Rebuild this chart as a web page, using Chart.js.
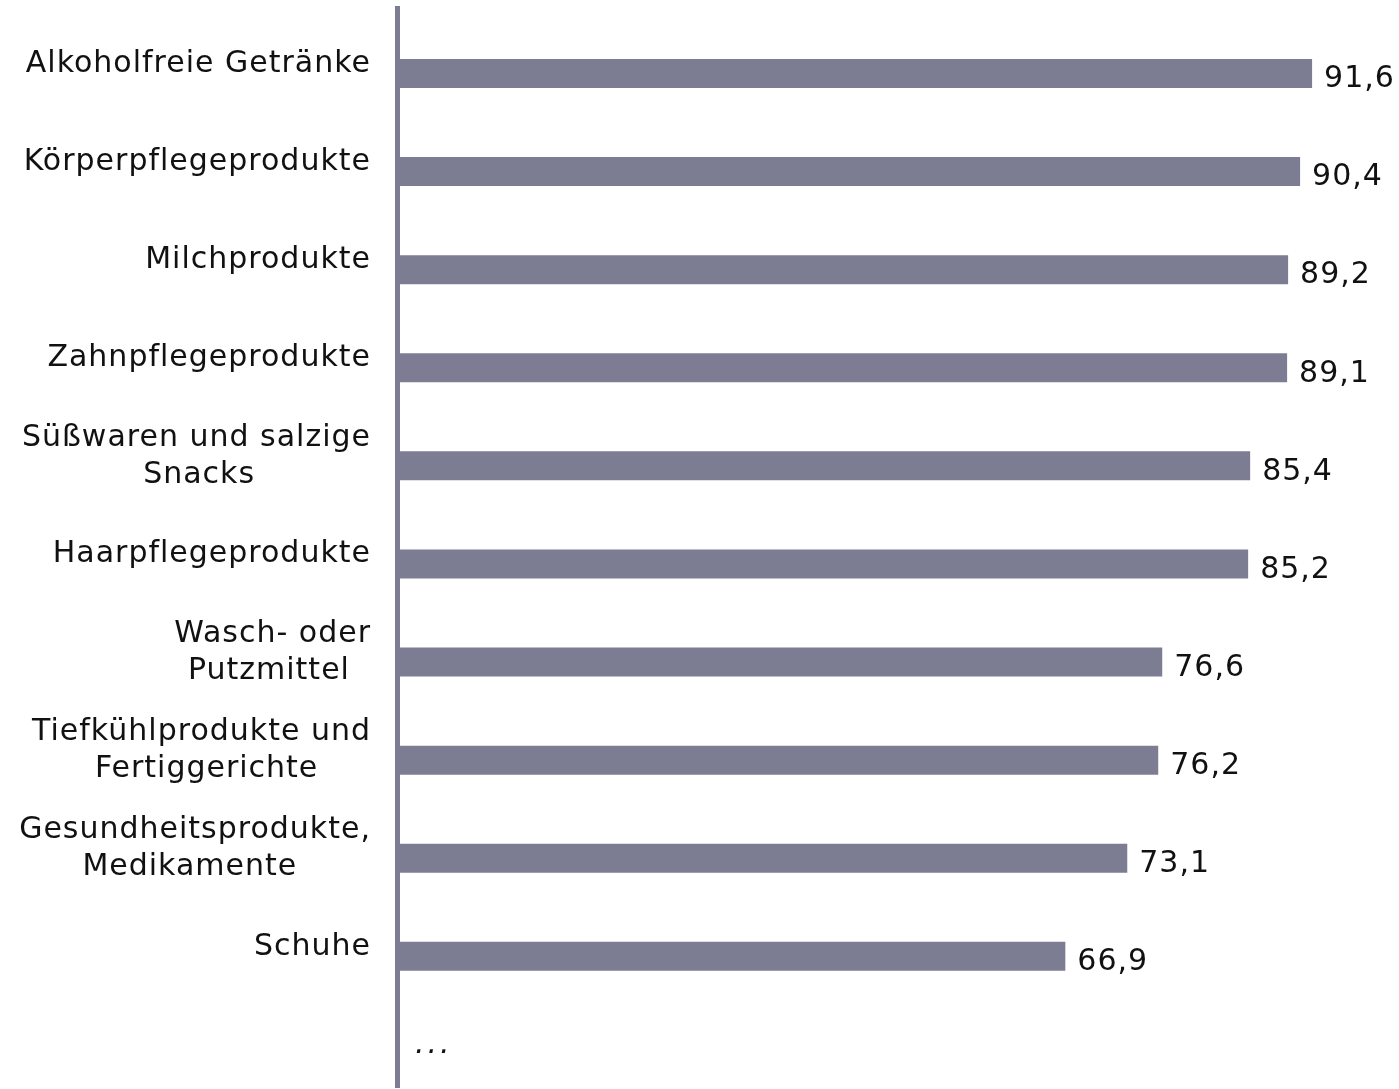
<!DOCTYPE html>
<html>
<head>
<meta charset="utf-8">
<script src="https://cdn.jsdelivr.net/npm/chart.js@4/dist/chart.umd.min.js"></script>
<style>
  html, body { margin: 0; padding: 0; background: #fff; overflow: hidden; }
  #wrap { width: 1399px; height: 1089px; }
</style>
</head>
<body>
<div id="wrap"><canvas id="myChart"></canvas></div>
<script>
const categories = [
    ["Alkoholfreie Getränke"],
    ["Körperpflegeprodukte"],
    ["Milchprodukte"],
    ["Zahnpflegeprodukte"],
    ["Süßwaren und salzige", "Snacks"],
    ["Haarpflegeprodukte"],
    ["Wasch- oder", "Putzmittel"],
    ["Tiefkühlprodukte und", "Fertiggerichte"],
    ["Gesundheitsprodukte,", "Medikamente"],
    ["Schuhe"],
    ["…"]
]
const values = [91.6, 90.4, 89.2, 89.1, 85.4, 85.2, 76.6, 76.2, 73.1, 66.9, null]
const spacer = [null, null, null, null, null, null, null, null, null, null, null]
const moreLabel = "..."

const barColor = "#7c7c92"
const fontFamily = "'DejaVu Sans', Verdana, sans-serif"
const fontSize = 30
const spacing = "1px"

// pad shorter lines with trailing spaces so each label block is centred line by line
const measure = document.createElement("canvas").getContext("2d")
measure.font = fontSize + "px " + fontFamily
measure.letterSpacing = spacing
function centerLines(lines) {
    if (lines.length < 2) return lines[0]
    const widths = lines.map(l => measure.measureText(l).width)
    const maxW = Math.max(...widths)
    const sp = measure.measureText(" ").width
    return lines.map((l, i) => l + " ".repeat(Math.round((maxW - widths[i]) / 2 / sp)))
}
const tickLabels = categories.map(c => c[0] === "…" ? "" : centerLines(c))

const valueLabels = {
    id: "valueLabels",
    beforeDraw(chart) {
        chart.ctx.letterSpacing = spacing
    },
    afterDatasetsDraw(chart) {
        const ctx = chart.ctx
        const meta = chart.getDatasetMeta(1)
        ctx.save()
        ctx.letterSpacing = spacing
        ctx.fillStyle = "#111"
        ctx.font = fontSize + "px " + fontFamily
        ctx.textAlign = "left"
        ctx.textBaseline = "middle"
        meta.data.forEach((bar, i) => {
            const v = values[i]
            if (v === null) return
            ctx.fillText(v.toFixed(1).replace(".", ","), bar.x + 12, bar.y + 6)
        })
        // the trailing "..." row sits inside the plot
        const x0 = chart.scales.x.getPixelForValue(0)
        const yLast = chart.scales.y.getPixelForValue(values.length - 1)
        ctx.font = "italic " + fontSize + "px " + fontFamily
        ctx.letterSpacing = "3px"
        ctx.fillText(moreLabel, x0 + 18, yLast + 7)
        ctx.restore()
    }
}

new Chart("myChart", {
    type: "bar",
    data: {
        labels: tickLabels,
        datasets: [{
            data: spacer,
            backgroundColor: "rgba(0,0,0,0)",
        },
        {
            data: values,
            backgroundColor: barColor,
        }]
    },
    options: {
        indexAxis: "y",
        responsive: true,
        maintainAspectRatio: false,
        animation: false,
        categoryPercentage: 0.671,
        barPercentage: 0.881,
        layout: {padding: {top: 8, bottom: 2, right: 3, left: 0}},
        plugins: {
            legend: {display: false},
            tooltip: {enabled: false}
        },
        scales: {
            x: {
                display: false,
                min: 0,
                max: 100
            },
            y: {
                grid: {display: false},
                border: {display: true, color: barColor, width: 5},
                ticks: {
                    color: "#111",
                    padding: 18,
                    labelOffset: 7,
                    autoSkip: false,
                    font: {family: fontFamily, size: fontSize, lineHeight: 1.23}
                },
                afterFit(scale) {
                    scale.width = 397
                    scale.paddingTop = 0
                    scale.paddingBottom = 0
                }
            }
        }
    },
    plugins: [valueLabels]
})
</script>
</body>
</html>
